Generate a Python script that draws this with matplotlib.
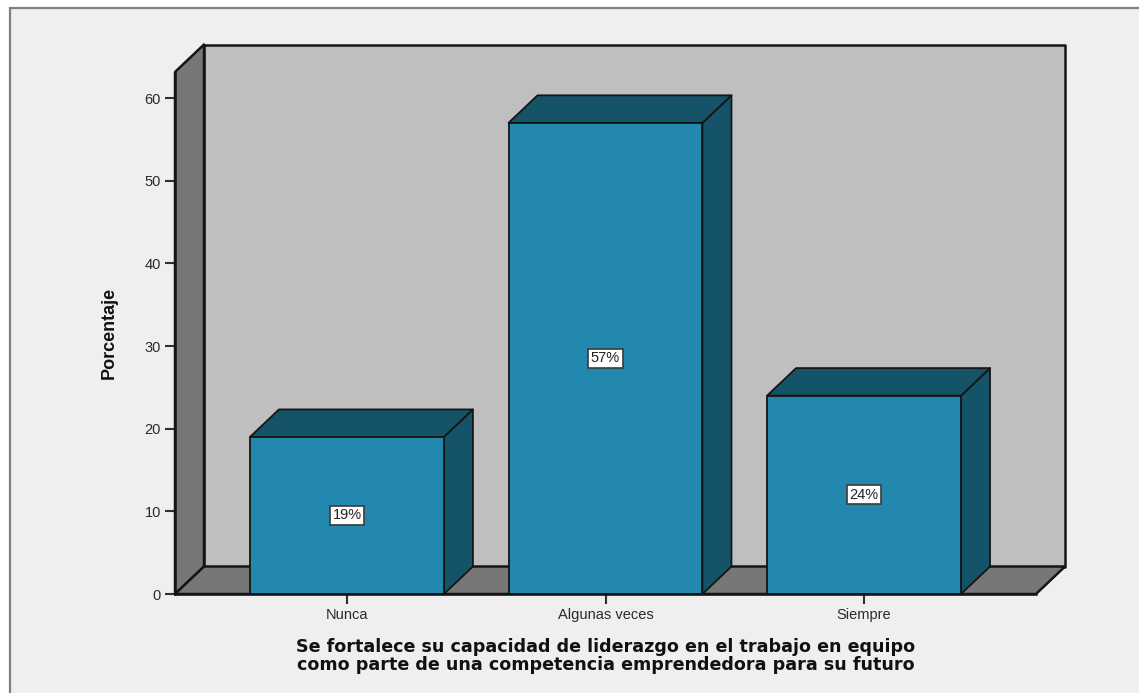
import matplotlib
matplotlib.use("Agg")
import matplotlib.pyplot as plt
from matplotlib.patches import Polygon, Rectangle
from matplotlib import font_manager as fm

categories = ["Nunca", "Algunas veces", "Siempre"]
values = [19, 57, 24]
value_labels = ["19%", "57%", "24%"]
y_ticks = [0, 10, 20, 30, 40, 50, 60]
y_label = "Porcentaje"
x_label = "Se fortalece su capacidad de liderazgo en el trabajo en equipo\ncomo parte de una competencia emprendedora para su futuro"

W, H = 1139, 693
BG, WALL, SIDE = "#efefef", "#bfbfbf", "#777777"
FRONT, DARK = "#2388ad", "#155468"
EDGE = "#151515"

fig = plt.figure(figsize=(W / 100, H / 100), dpi=100, facecolor="white")

# outer frame (figure pixels, y down)
bg = fig.add_axes([0, 0, 1, 1]); bg.set_xlim(0, W); bg.set_ylim(H, 0); bg.axis("off")
bg.add_patch(Rectangle((9.5, 7.5), W + 20, H + 20, fc=BG, ec="#808080", lw=1.6))

L, R, T, B = 175, 1036, 72, 594
ax = fig.add_axes([L / W, 1 - B / H, (R - L) / W, (B - T) / H])
ax.set_xlim(-0.665, 2.665)
ax.set_ylim(0, 63.15)
ax.patch.set_visible(False)
for s in ("top", "right"):
    ax.spines[s].set_visible(False)
for s in ("left", "bottom"):
    ax.spines[s].set_linewidth(1.8)
    ax.spines[s].set_color(EDGE)
    ax.spines[s].set_zorder(20)

# depth of the 3-D projection, expressed in data units
ux = (ax.get_xlim()[1] - ax.get_xlim()[0]) / (R - L)
uy = ax.get_ylim()[1] / (B - T)
dx, dy = 29 * ux, 27.5 * uy
x0, x1 = ax.get_xlim()
y1 = ax.get_ylim()[1]
kw = dict(clip_on=False, ec=EDGE, joinstyle="round")

ax.add_patch(Polygon([(x0 + dx, dy), (x1 + dx, dy), (x1 + dx, y1 + dy), (x0 + dx, y1 + dy)], fc=WALL, lw=1.8, zorder=1, **kw))
ax.add_patch(Polygon([(x0, 0), (x0 + dx, dy), (x0 + dx, y1 + dy), (x0, y1)], fc=SIDE, lw=1.8, zorder=2, **kw))
ax.add_patch(Polygon([(x0, 0), (x1, 0), (x1 + dx, dy), (x0 + dx, dy)], fc=SIDE, lw=1.8, zorder=2, **kw))

w = 0.75
for i, v in enumerate(values):
    a, b = i - w / 2, i + w / 2
    ax.add_patch(Polygon([(b, 0), (b + dx, dy), (b + dx, v + dy), (b, v)], fc=DARK, lw=1.3, zorder=5, **kw))
    ax.add_patch(Polygon([(a, v), (b, v), (b + dx, v + dy), (a + dx, v + dy)], fc=DARK, lw=1.3, zorder=5, **kw))
    ax.add_patch(Polygon([(a, 0), (b, 0), (b, v), (a, v)], fc=FRONT, lw=1.3, zorder=6, **kw))
    ax.text(i, v / 2, value_labels[i], ha="center", va="center", fontsize=10.5, family="Liberation Sans",
            color="#222222", zorder=8,
            bbox=dict(boxstyle="square,pad=0.17", fc="white", ec="#3a3a3a", lw=1.2))

ax.set_xticks(range(len(categories)), categories)
ax.set_yticks(y_ticks)
ax.tick_params(axis="both", length=7, width=1.5, color="#303030", labelcolor="#2a2a2a", labelsize=10.5, pad=3)
for t in ax.get_xticklabels() + ax.get_yticklabels():
    t.set_family("Liberation Sans")

narrow = [f.name for f in fm.fontManager.ttflist if f.name == "Liberation Sans Narrow"]
bg.text(109, 333, y_label, rotation=90, ha="center", va="center", fontsize=13, fontweight="bold",
        family=narrow[0] if narrow else "Liberation Sans", color="#111111")
bg.text(606, 656, x_label, ha="center", va="center", fontsize=12.6, fontweight="bold",
        family="DejaVu Sans", color="#111111", linespacing=0.95)

fig.savefig("out.png", dpi=100, facecolor="white")
